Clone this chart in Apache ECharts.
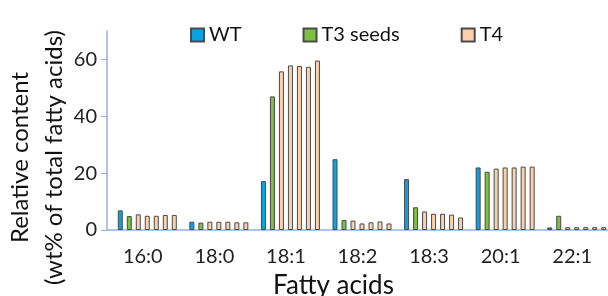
<!DOCTYPE html>
<html>
<head>
<meta charset="utf-8">
<script src="https://cdn.jsdelivr.net/npm/echarts@6/dist/echarts.min.js"></script>
<style>
  html, body { margin: 0; padding: 0; background: #fff; }
  #chart { width: 608px; height: 296px; }
</style>
</head>
<body>
<div id="chart"></div>
<script>
var categories = ['16:0', '18:0', '18:1', '18:2', '18:3', '20:1', '22:1'];
var wt = [6.9, 2.9, 17.2, 24.9, 17.9, 22.0, 0.9];
var t3 = [4.9, 2.6, 47.0, 3.5, 8.0, 20.5, 5.0];
// five T4 lines
var t4a = [5.5, 2.9, 55.8, 3.3, 6.5, 21.6, 1.0];
var t4b = [5.0, 2.9, 57.9, 2.3, 5.7, 22.0, 1.0];
var t4c = [5.0, 2.9, 57.7, 2.7, 5.7, 22.0, 1.0];
var t4d = [5.3, 2.7, 57.4, 3.0, 5.4, 22.3, 1.0];
var t4e = [5.3, 2.7, 59.6, 2.3, 4.4, 22.3, 1.0];
var yTicks = [0, 20, 40, 60];

var axisColor = '#8eb4e3';
var font = 'Lato';

function bar(name, values, color) {
    return {
        name: name,
        type: 'bar',
        data: values,
        barWidth: 5,
        barGap: '80%',
        itemStyle: { color: color, borderColor: '#4a4a4a', borderWidth: 1 }
    };
}

var myChart;
document.addEventListener("DOMContentLoaded", function() {
    myChart = echarts.init(document.getElementById('chart'));
    var option = {
        animation: false,
        textStyle: { fontFamily: font },
        legend: {
            data: ['WT', 'T3 seeds', 'T4'],
            icon: 'rect',
            left: 190,
            top: 25,
            padding: 0,
            itemWidth: 13,
            itemHeight: 13,
            itemGap: 61,
            textStyle: { fontSize: 20, color: '#111', fontFamily: font }
        },
        grid: { left: 107, right: 0, top: 31, bottom: 66, outerBoundsMode: 'none', containLabel: false },
        xAxis: {
            type: 'category',
            data: categories,
            name: 'Fatty acids',
            nameLocation: 'middle',
            nameGap: 43,
            nameMoveOverlap: false,
            nameTextStyle: { fontSize: 26, color: '#111', padding: [0, 48, 0, 0] },
            axisLine: { lineStyle: { color: axisColor, width: 1.5 } },
            axisTick: { length: 7, lineStyle: { color: axisColor } },
            axisLabel: { fontSize: 20, color: '#222', margin: 17 }
        },
        yAxis: {
            type: 'value',
            min: 0,
            max: 70,
            interval: 10,
            name: 'Relative content\n(wt% of total fatty acids)',
            nameLocation: 'middle',
            nameGap: 36,
            nameMoveOverlap: false,
            nameTextStyle: { fontSize: 24, color: '#111', lineHeight: 34, padding: [0, 54, 0, 0] },
            axisLine: { show: true, lineStyle: { color: axisColor, width: 1.5 } },
            axisTick: { show: true, length: 6, customValues: yTicks, lineStyle: { color: axisColor } },
            axisLabel: { fontSize: 20, color: '#222', margin: 10, customValues: yTicks },
            splitLine: { show: false }
        },
        series: [
            bar('', [], 'transparent'),
            bar('WT', wt, '#0aa2e6'),
            bar('T3 seeds', t3, '#7cc142'),
            bar('T4', t4a, '#fbd1ab'),
            bar('T4', t4b, '#fbd1ab'),
            bar('T4', t4c, '#fbd1ab'),
            bar('T4', t4d, '#fbd1ab'),
            bar('T4', t4e, '#fbd1ab')
        ]
    };
    myChart.setOption(option);
});
</script>
</body>
</html>
